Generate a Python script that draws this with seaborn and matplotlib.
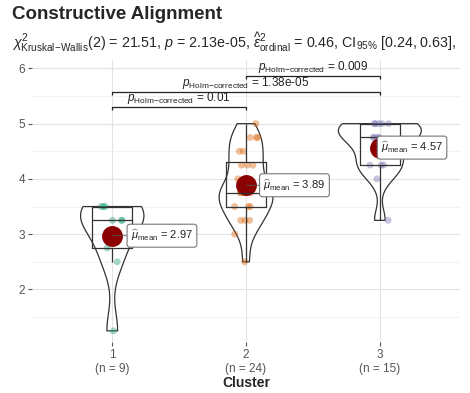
import numpy as np
import pandas as pd
import matplotlib
matplotlib.use("Agg")
import matplotlib.pyplot as plt
import seaborn as sns

# ---- data ----
clusters = ["1", "2", "3"]
cluster1 = [1.25, 2.5, 2.75, 3.25, 3.25, 3.25, 3.5, 3.5, 3.5]
cluster2 = [2.5, 3.0, 3.25, 3.25, 3.25, 3.5, 3.5, 3.5, 3.75, 3.75, 3.75, 3.75,
            3.75, 3.75, 4.0, 4.25, 4.25, 4.25, 4.5, 4.5, 4.75, 4.75, 4.75, 5.0]
cluster3 = [3.25, 4.0, 4.25, 4.25, 4.25, 4.5, 4.75, 4.75, 4.75, 4.75,
            5.0, 5.0, 5.0, 5.0, 5.0]
pair_groups = [("1", "2"), ("1", "3"), ("2", "3")]
pair_pvalues = ["0.01", "1.38e-05", "0.009"]
title = "Constructive Alignment"
subtitle = (r"$\chi^2_{\mathrm{Kruskal\!-\!Wallis}}$(2) = 21.51, $\mathit{p}$ = 2.13e-05, "
            r"$\widehat{\epsilon}^2_{\mathrm{ordinal}}$ = 0.46, CI$_{95\%}$ [0.24, 0.63],")
palette = ["#1B9E77", "#D95F02", "#7570B3"]

df = pd.DataFrame({
    "Cluster": ["1"] * len(cluster1) + ["2"] * len(cluster2) + ["3"] * len(cluster3),
    "value": cluster1 + cluster2 + cluster3,
})

sns.set_theme(style="white")
plt.rcParams["font.family"] = ["Liberation Sans", "DejaVu Sans"]
plt.rcParams["mathtext.fontset"] = "custom"
plt.rcParams["mathtext.rm"] = "Liberation Sans"
plt.rcParams["mathtext.it"] = "Liberation Sans:italic"
plt.rcParams["mathtext.bf"] = "Liberation Sans:bold"

fig = plt.figure(figsize=(4.7, 3.93), dpi=100)
ax = fig.add_axes([0.068, 0.130, 0.911, 0.717])

np.random.seed(3)
sns.stripplot(data=df, x="Cluster", y="value", hue="Cluster", order=clusters,
              palette=palette, alpha=0.4, size=5, jitter=0.09, linewidth=0,
              legend=False, ax=ax, zorder=2)
sns.boxplot(data=df, x="Cluster", y="value", order=clusters, width=0.3,
            showfliers=False, showcaps=False, fill=False, color="#333333",
            linewidth=0.9, whis=1.5, ax=ax)
sns.violinplot(data=df, x="Cluster", y="value", order=clusters, width=0.62,
               cut=0, inner=None, fill=False, color="#333333", linewidth=0.9,
               density_norm="area", bw_adjust=0.75, ax=ax)

means = df.groupby("Cluster")["value"].mean().reindex(clusters)
sns.pointplot(x=clusters, y=means.values, order=clusters, linestyle="none",
              markers="o", color="#8B0000", markersize=13, errorbar=None, ax=ax)

label_dx = [0.14, 0.13, 0.01]
for i, (c, m) in enumerate(means.items()):
    ax.annotate(r"$\widehat{\mu}_{\mathrm{mean}}$ = " + f"{m:.2f}",
                xy=(i, m), xytext=(i + label_dx[i], m),
                ha="left", va="center", fontsize=8, color="#222222",
                bbox=dict(boxstyle="round,pad=0.35,rounding_size=0.25",
                          fc="white", ec="#777777", lw=0.8),
                arrowprops=dict(arrowstyle="-", color="#555555", lw=0.6,
                                shrinkA=0, shrinkB=0),
                zorder=6)

# pairwise comparison brackets
ymax = df["value"].max()
step = 0.28
tick = 0.06
for k, ((a, b), p) in enumerate(zip(pair_groups, pair_pvalues)):
    xa, xb = clusters.index(a), clusters.index(b)
    yb = ymax + 0.3 + k * step
    ax.plot([xa, xa, xb, xb], [yb - tick, yb, yb, yb - tick], color="#222222",
            lw=0.9, zorder=5, solid_capstyle="butt")
    ax.text((xa + xb) / 2, yb + 0.015,
            r"$\mathit{p}_{\mathrm{Holm\!-\!corrected}}$ = " + p,
            ha="center", va="bottom", fontsize=8.5, color="#222222")

ax.set_xlim(-0.6, 2.6)
ax.set_ylim(1.05, 6.15)
ax.set_yticks([2, 3, 4, 5, 6])
ax.set_yticks([1.5, 2.5, 3.5, 4.5, 5.5], minor=True)
counts = df.groupby("Cluster").size().reindex(clusters)
ax.set_xticks(range(len(clusters)))
ax.set_xticklabels([f"{c}\n(n = {n})" for c, n in counts.items()])
ax.grid(True, which="major", color="#E3E3E3", lw=0.8)
ax.grid(True, which="minor", axis="y", color="#F0F0F0", lw=0.6)
ax.set_axisbelow(True)
for s in ax.spines.values():
    s.set_visible(False)
ax.tick_params(axis="both", which="major", length=3, width=0.8, color="#555555",
               labelsize=8.5, labelcolor="#555555", pad=2, left=True, bottom=True)
ax.tick_params(which="minor", length=0)
ax.set_ylabel("")
ax.set_xlabel("Cluster", fontsize=10, fontweight="bold", labelpad=1)

fig.text(0.025, 0.985, title, fontsize=13.5, fontweight="bold", va="top", ha="left")
fig.text(0.025, 0.893, subtitle, fontsize=10.3, va="center", ha="left")

fig.savefig("out.png", dpi=100)
